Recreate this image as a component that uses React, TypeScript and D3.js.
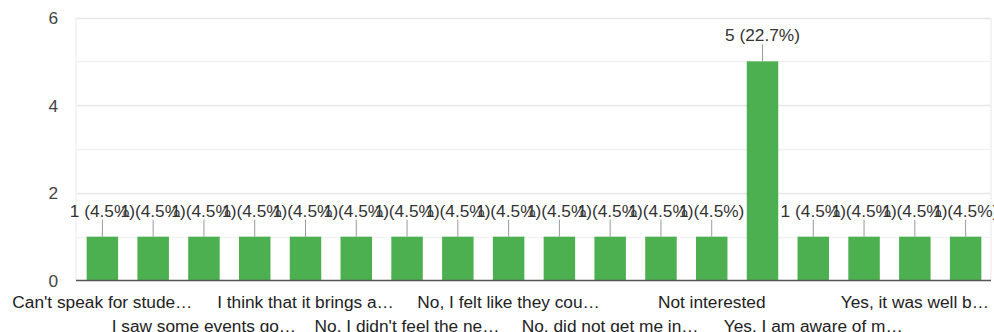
import React, { useEffect, useRef } from "react";
import * as d3 from "d3";

// Response categories (labels as shown on the axis) and their counts
const categories: string[] = [
  "Can't speak for stude…",
  "I don't know much ab…",
  "I saw some events go…",
  "I think it is a good i…",
  "I think that it brings a…",
  "Maybe, I'm not sure…",
  "No, I didn't feel the ne…",
  "No, I don't really go t…",
  "No, I felt like they cou…",
  "No, I have not heard…",
  "No, did not get me in…",
  "No, not really",
  "Not interested",
  "Yes",
  "Yes, I am aware of m…",
  "Yes, I went to some…",
  "Yes, it was well b…",
  "Yes, very much so…",
];
const counts: number[] = [1, 1, 1, 1, 1, 1, 1, 1, 1, 1, 1, 1, 1, 5, 1, 1, 1, 1];
const yTicks: number[] = [0, 2, 4, 6];
const yGrid: number[] = [0, 1, 2, 3, 4, 5, 6];

const W = 994;
const H = 332;
const FONT = "'Liberation Sans', Arial, sans-serif";
const FS = 17.3;

export default function App() {
  const ref = useRef<SVGSVGElement | null>(null);

  useEffect(() => {
    const svg = d3.select(ref.current);
    svg.selectAll("*").remove();

    const total = d3.sum(counts);
    const x = d3
      .scaleBand<string>()
      .domain(categories)
      .range([77, 991])
      .paddingInner(0.38)
      .paddingOuter(0.19);
    const y = d3.scaleLinear().domain([0, 6]).range([280.5, 17.5]);

    const g = svg.append("g");

    // gridlines
    g.selectAll("line.grid")
      .data(yGrid.filter((v) => v !== 0))
      .join("line")
      .attr("x1", 76.5)
      .attr("x2", 991)
      .attr("y1", (d) => Math.round(y(d)) + 0.5)
      .attr("y2", (d) => Math.round(y(d)) + 0.5)
      .attr("stroke", (d) => (d % 2 === 0 ? "#e8e8e8" : "#f2f2f2"))
      .attr("stroke-width", 1.3);

    // plot frame sides
    [76, 991].forEach((vx) => {
      g.append("line")
        .attr("x1", vx)
        .attr("x2", vx)
        .attr("y1", y(6))
        .attr("y2", y(0))
        .attr("stroke", "#efefef")
        .attr("stroke-width", 1.3);
    });

    // bars
    g.selectAll("rect.bar")
      .data(categories)
      .join("rect")
      .attr("x", (d) => x(d)!)
      .attr("width", x.bandwidth())
      .attr("y", (_, i) => y(counts[i]))
      .attr("height", (_, i) => y(0) - y(counts[i]))
      .attr("fill", "#4caf50");

    // baseline
    g.append("line")
      .attr("x1", 76)
      .attr("x2", 991)
      .attr("y1", y(0))
      .attr("y2", y(0))
      .attr("stroke", "#555")
      .attr("stroke-width", 1.6);

    // y tick labels
    g.selectAll("text.ytick")
      .data(yTicks)
      .join("text")
      .attr("x", 58)
      .attr("y", (d) => y(d) + 6.5)
      .attr("text-anchor", "end")
      .attr("font-family", FONT)
      .attr("font-size", FS)
      .attr("fill", "#444")
      .text((d) => String(d));

    // annotation leader lines
    g.selectAll("line.lead")
      .data(categories)
      .join("line")
      .attr("x1", (d) => x(d)! + x.bandwidth() / 2)
      .attr("x2", (d) => x(d)! + x.bandwidth() / 2)
      .attr("y1", (_, i) => y(counts[i]))
      .attr("y2", (_, i) => y(counts[i]) - 17)
      .attr("stroke", "#999")
      .attr("stroke-width", 1);

    // annotation labels
    g.selectAll("text.ann")
      .data(categories)
      .join("text")
      .attr("x", (d) => x(d)! + x.bandwidth() / 2)
      .attr("y", (_, i) => y(counts[i]) - 20)
      .attr("text-anchor", "middle")
      .attr("font-family", FONT)
      .attr("font-size", FS)
      .attr("fill", "#333")
      .text((_, i) => `${counts[i]} (${((counts[i] / total) * 100).toFixed(1)}%)`);

    // category labels: every other category, alternating two rows
    g.selectAll("text.cat")
      .data(categories.filter((_, i) => i % 2 === 0))
      .join("text")
      .attr("x", (d) => x(d)! + x.bandwidth() / 2)
      .attr("y", (_, j) => (j % 2 === 0 ? 307.5 : 331.5))
      .attr("text-anchor", "middle")
      .attr("font-family", FONT)
      .attr("font-size", FS)
      .attr("fill", "#222")
      .text((d) => d);
  }, []);

  return (
    <svg
      ref={ref}
      width={W}
      height={H}
      style={{ position: "absolute", left: 0, top: 0, background: "#fff" }}
    />
  );
}
